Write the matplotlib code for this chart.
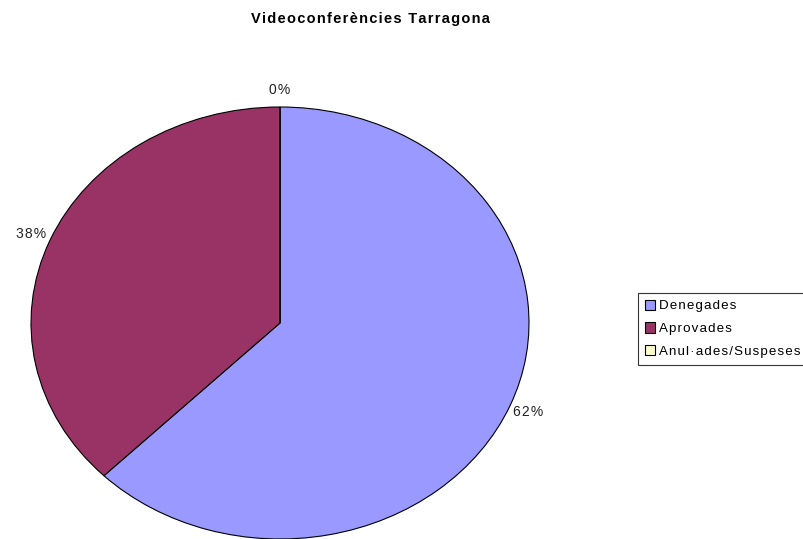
import matplotlib.pyplot as plt

# Data for the chart
categories = ["Denegades", "Aprovades", "Anul·ades/Suspeses"]
percentages = [62.5, 37.5, 0]
colors = ["#9999FF", "#993366", "#FFFFCC"]
title = "Videoconferències Tarragona"

plt.rcParams['font.family'] = ['Liberation Sans', 'DejaVu Sans']


def spaced(s):
    # widen letter spacing a little, as in the original
    return "\u200a".join(s)


fig = plt.figure(figsize=(8.04, 5.39), dpi=100)

# Axes sized so the pie becomes the stretched ellipse of the original
ax = fig.add_axes([31 / 804, 0.0, 498 / 804, 432 / 539])
wedges, texts, autotexts = ax.pie(
    percentages,
    colors=colors,
    startangle=90,
    counterclock=False,
    autopct="%1.0f%%",
    pctdistance=1.08,
    wedgeprops=dict(edgecolor="black", linewidth=0.8),
    textprops=dict(fontsize=10, color="#222222"),
)
ax.set_aspect('auto')
ax.set_xlim(-1, 1)
ax.set_ylim(-1, 1)
for t in autotexts:
    t.set_clip_on(False)
    t.set_text(spaced(t.get_text()))

# Title
fig.text(370 / 804, 1 - 19 / 539, spaced(title),
         ha="center", va="center", fontsize=10.5, fontweight="bold")

# Legend
leg = fig.legend(
    wedges, [spaced(c) for c in categories],
    loc="upper left",
    bbox_to_anchor=(638 / 804, 1 - 293 / 539),
    frameon=True, fancybox=False, shadow=False,
    fontsize=9.6, handlelength=0.8, handleheight=0.8, handletextpad=0.3,
    borderpad=0.5, labelspacing=0.75, borderaxespad=0,
)
leg.get_frame().set_edgecolor("black")
leg.get_frame().set_linewidth(0.8)

plt.savefig("out.png", dpi=100)
